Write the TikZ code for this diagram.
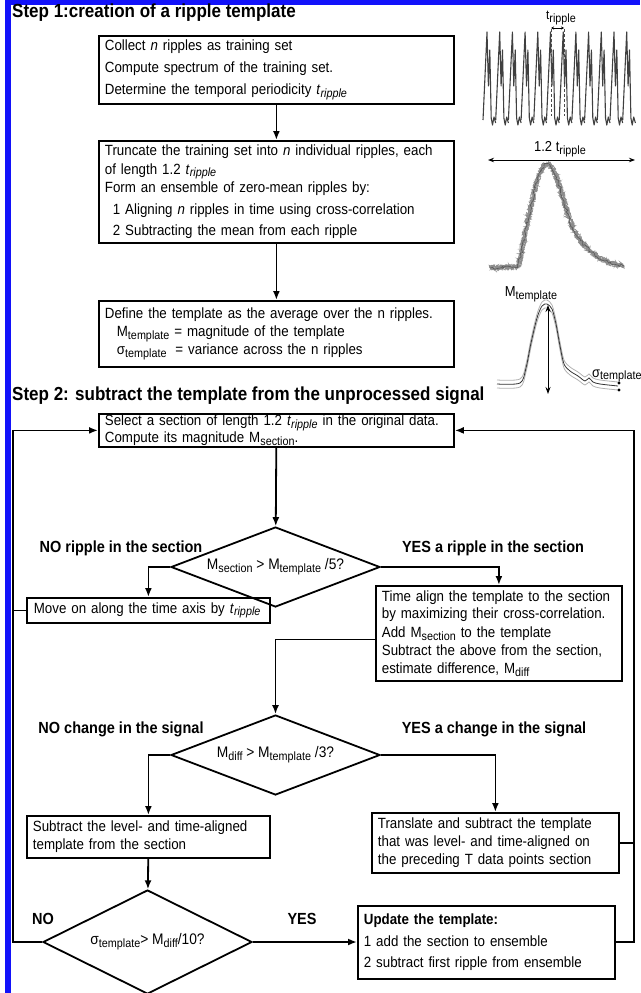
\documentclass[tikz,border=0pt]{standalone}
\usepackage{fontspec}
\setmainfont{Liberation Sans}[FakeStretch=0.9]
\usepackage{tikz}
\usetikzlibrary{positioning,shapes.geometric,arrows.meta,decorations.pathmorphing}

\definecolor{frameblue}{RGB}{18,18,250}
\hyphenpenalty=10000
\exhyphenpenalty=10000

\newcommand{\lowsub}[1]{\raisebox{-0.35ex}{\fontsize{12}{12}\selectfont #1}}
\newcommand{\tripit}{\textit{t}\lowsub{\textit{ripple}}}
\newcommand{\trip}{t\lowsub{ripple}}
\newcommand{\Mtempl}{M\lowsub{template}}
\newcommand{\Msect}{M\lowsub{section}}
\newcommand{\Mdiff}{M\lowsub{diff}}
\newcommand{\stempl}{σ\lowsub{template}}

\begin{document}
\begin{tikzpicture}[x=1pt, y=-1pt, >={Latex[length=9pt,width=7pt]},
  procbox/.style={draw, line width=1.8pt, anchor=north west, align=left,
    inner xsep=6pt, inner ysep=2pt, font=\fontsize{14.8}{17}\selectfont},
  testbox/.style={draw, diamond, line width=1.8pt, inner sep=0pt, aspect=2.4,
    minimum width=209pt, minimum height=80pt, font=\fontsize{15.3}{17}\selectfont},
  branch/.style={inner sep=0pt, font=\fontsize{16.1}{17}\selectfont\bfseries},
  steptitle/.style={anchor=west, inner sep=0pt, font=\fontsize{18.9}{20}\selectfont\bfseries},
  flow/.style={->, line width=1.8pt},
  link/.style={line width=1.8pt},
  plotlabel/.style={inner sep=0pt, font=\fontsize{14.4}{15}\selectfont},
  spanarrow/.style={<->, >={Stealth[length=6pt,width=4.5pt]}, line width=0.9pt}]

\useasboundingbox (0,0) rectangle (640,993);

% Blue frame
\fill[frameblue] (5,0) rectangle (640,4.5);
\fill[frameblue] (5,0) rectangle (11,993);

% Return tracks
\coordinate (ltrack) at (13,0);
\coordinate (rtrack) at (634,0);

% Step 1
\node[steptitle] (title1) at (12,13) {Step 1:creation of a ripple template};

\node[procbox, text width=343pt, minimum height=68pt, font=\fontsize{14.8}{22}\selectfont] (collect) at (98,35)
  {Collect \textit{n} ripples as training set\\
   Compute spectrum of the training set.\\
   Determine the temporal periodicity \tripit};

\node[procbox, text width=343pt, minimum height=102pt, font=\fontsize{14.8}{18.5}\selectfont] (truncate) at (98,140)
  {Truncate the training set into \textit{n} individual ripples, each\\
   of length 1.2 \tripit\\
   Form an ensemble of zero-mean ripples by:\\[3pt]
   \hspace*{8pt}1 Aligning \textit{n} ripples in time using cross-correlation\\[3pt]
   \hspace*{8pt}2 Subtracting the mean from each ripple};

\node[procbox, text width=343pt, minimum height=66pt, font=\fontsize{14.8}{18}\selectfont] (define) at (98,300)
  {Define the template as the average over the n ripples.\\
   \hspace*{12pt}\Mtempl{} = magnitude of the template\\
   \hspace*{12pt}\stempl\hspace*{4pt} = variance across the n ripples};

\draw[flow] (collect) -- (truncate);
\draw[flow] (truncate) -- (define);

% Ripple train
\foreach \k in {0,...,11}{
  \pgfmathsetmacro{\xo}{487+12.7*\k}
  \draw[black!75, line width=1.1pt, line join=round]
    (\xo-4,120) -- (\xo,32) -- (\xo+1.4,86) -- (\xo+2.8,50) -- (\xo+4.2,118)
    -- (\xo+5.5,125) -- (\xo+7,117) -- (\xo+8.7,123);
}
\draw[black!70, line width=0.9pt, dash pattern=on 3pt off 2pt] (551,29) -- (551,116);
\draw[black!70, line width=0.9pt, dash pattern=on 3pt off 2pt] (564,29) -- (564,116);
\draw[spanarrow, >={Stealth[length=3pt,width=3pt]}, line width=0.6pt] (551,28) -- (564,28);
\node[plotlabel, font=\fontsize{13}{13}\selectfont] (periodtag) at (561,18) {\trip};

% Ensemble of ripples
\draw[spanarrow] (488,160) -- (635,160);
\node[plotlabel] (widthtag) at (560,149) {1.2 \trip};
\pgfmathsetseed{7}
\foreach \s in {1,...,7}{
  \draw[black!45, line width=0.7pt, decorate,
        decoration={random steps, segment length=1.5pt, amplitude=2.8pt}]
    (490,268) -- (518,267) .. controls (526,235) and (536,165) .. (547,164)
    .. controls (556,163) and (563,205) .. (573,228)
    .. controls (585,252) and (603,263) .. (624,266);
}
\draw[black!65, line width=0.6pt, decorate,
      decoration={random steps, segment length=2pt, amplitude=1.5pt}]
  (490,268) -- (518,267) .. controls (526,235) and (536,165) .. (547,164)
  .. controls (556,163) and (563,205) .. (573,228)
  .. controls (585,252) and (603,263) .. (624,266);

% Template with spread
\foreach \dy/\col in {4/gray!60, -4/gray!60, 0/black!80}{
  \draw[\col, line width=0.8pt, yshift=\dy pt] plot[smooth] coordinates {
    (497,384) (520,383) (526,368) (531,343) (537,318) (542,306) (547,304)
    (552,309) (556,324) (560,346) (564,364) (570,371) (578,376) (585,381)
    (589,378) (593,382) (600,384) (618,386)};
}
\draw[spanarrow, >={Stealth[length=7pt,width=5pt]}] (548,305) -- (548,394);
\node[plotlabel] (magtag) at (531,294) {\Mtempl};
\node[plotlabel, anchor=west] (sigmatag) at (592,376) {\stempl};
\fill (619,383) circle (1.6);
\fill (619,390) circle (1.6);

% Step 2
\node[steptitle] (title2) at (12,396) {Step 2: subtract the template from the unprocessed signal};

\node[procbox, text width=343pt, minimum height=33pt, inner ysep=1pt, font=\fontsize{14.8}{15}\selectfont] (select) at (98,413)
  {Select a section of length 1.2 \tripit{} in the original data.\\
   Compute its magnitude \Msect.};

\node[testbox] (ripplecheck) at (275.5,567) {\Msect{} > \Mtempl{} /5?};
\node[branch] (noripple) at (121,548) {NO ripple in the section};
\node[branch] (yesripple) at (493,548) {YES a ripple in the section};

\node[procbox, text width=243pt, inner xsep=0pt, minimum height=25pt] (moveon) at (26,597)
  {\hspace*{7pt}Move on along the time axis by \tripit};

\node[procbox, text width=234pt, minimum height=95pt, font=\fontsize{14.8}{17.5}\selectfont] (align) at (375,585)
  {Time align the template to the section\\
   by maximizing their cross-correlation.\\[1pt]
   Add \Msect{} to the template\\[1pt]
   Subtract the above from the section,\\
   estimate difference, \Mdiff};

\node[testbox] (changecheck) at (275.5,755) {\Mdiff{} > \Mtempl{} /3?};
\node[branch] (nochange) at (121,729) {NO change in the signal};
\node[branch] (yeschange) at (494,729) {YES a change in the signal};

\node[procbox, text width=231pt, minimum height=42pt, font=\fontsize{14.8}{18}\selectfont] (subtract) at (26,815)
  {Subtract the level- and time-aligned\\
   template from the section};

\node[procbox, text width=235pt, minimum height=60pt, font=\fontsize{14.8}{18}\selectfont] (translate) at (371,812)
  {Translate and subtract the template\\
   that was level- and time-aligned on\\
   the preceding T data points section};

\node[testbox, minimum height=104pt] (sigmacheck) at (147.5,942) {\stempl> \Mdiff/10?};
\node[branch] (nolabel) at (43,919) {NO};
\node[branch] (yeslabel) at (302,919) {YES};

\node[procbox, text width=245pt, minimum height=73pt, font=\fontsize{14.8}{21.5}\selectfont] (update) at (357,905)
  {\textbf{Update the template:}\\
   1 add the section to ensemble\\
   2 subtract first ripple from ensemble};

% Connectors
\draw[flow] (select) -- (ripplecheck);
\draw[flow] (ripplecheck.west) -| (moveon.north);
\draw[flow] (ripplecheck.east) -| (align.north);
\draw[flow] ([yshift=-6pt]align.west) -| (changecheck.north);
\draw[flow] (changecheck.west) -| (subtract.north);
\draw[flow] (changecheck.east) -| (translate.north);
\draw[flow] (subtract) -- (sigmacheck);
\draw[flow] (sigmacheck.east) -- (sigmacheck.east -| update.west);

% Loops back to the section
\draw[flow] (sigmacheck.west) -- (sigmacheck.west -| ltrack) |- (select.west);
\draw[link] (moveon.west) -- (moveon.west -| ltrack);
\draw[flow] (update.east |- sigmacheck.east) -- (sigmacheck.east -| rtrack) |- (select.east);
\draw[link] (translate.east) -- (translate.east -| rtrack);

\end{tikzpicture}
\end{document}
